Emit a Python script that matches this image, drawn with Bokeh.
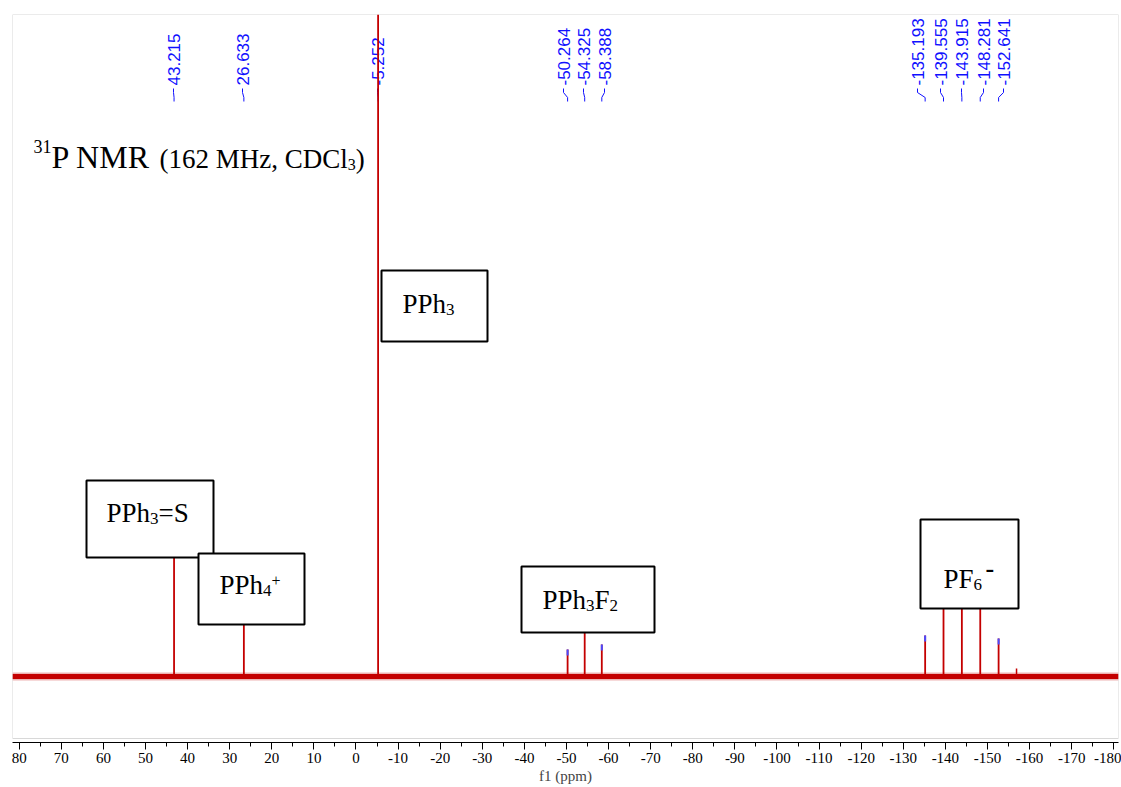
import numpy as np
from bokeh.plotting import figure
from bokeh.models import Range1d, FixedTicker, BoxAnnotation
from bokeh.embed import file_html
from bokeh.resources import INLINE
from bokeh.core.properties import value

# ---------------- data ----------------
peak_ppm = [43.215, 26.633, -5.252, -50.264, -54.325, -58.388,
            -135.193, -139.555, -143.915, -148.281, -152.641]
peak_height = [130, 62, 662, 27, 54, 32, 41, 78, 78, 78, 38]
peak_labels = ["43.215", "26.633", "-5.252", "-50.264", "-54.325", "-58.388",
               "-135.193", "-139.555", "-143.915", "-148.281", "-152.641"]
minor_ppm = [-156.9]
minor_height = [8]
tick_values = list(range(80, -181, -10))
minor_tick_values = list(range(80, -181, -5))
tick_labels = {t: str(t) for t in tick_values}

# ---------------- layout helpers ----------------
W, H = 1121, 787
X0, X1 = 81.59, -181.12          # ppm at frame left / right
PXL, PXR = 12, 1118              # canvas px of frame left / right
def px2ppm(px):
    return X0 - (px - PXL) * (X0 - X1) / (PXR - PXL)
def py2y(py):
    return 676 - py              # baseline (0) sits at canvas y 676

label_px = [173, 242, 377, 563, 583, 604, 917, 940, 961, 983, 1003]
label_ppm = [px2ppm(v) for v in label_px]

RED = "#c40000"
BLUE = "#1010ff"
SERIF = "Liberation Serif"

# Times / Liberation Serif advance widths (em)
TW = {" ": .25, "(": .333, ")": .333, "M": .889, "H": .722, "z": .444, ",": .25,
      "C": .667, "D": .722, "l": .278, "P": .556, "N": .722, "R": .667, "h": .5,
      "=": .564, "S": .556, "F": .556, "+": .564, "-": .333}
def tw(s, size):
    return sum(TW.get(c, .5) for c in s) * size

p = figure(width=W, height=H, output_backend="svg", toolbar_location=None,
           x_range=Range1d(X0, X1), y_range=Range1d(-66, 662),
           y_axis_type=None, tools="")
p.min_border_left = PXL
p.min_border_right = W - PXR
p.min_border_top = 14
p.min_border_bottom = H - 742
p.outline_line_color = None
p.xgrid.visible = False
p.ygrid.visible = False
p.background_fill_color = "white"
p.border_fill_color = "white"

# grey frame box
p.add_layout(BoxAnnotation(left=X0, right=X1, top=py2y(14), bottom=py2y(738),
                           fill_color=None, line_color="#d8d8d8", line_alpha=1,
                           line_width=1, level="underlay"))

# x axis
ax = p.xaxis[0]
ax.ticker = FixedTicker(ticks=tick_values, minor_ticks=minor_tick_values)
ax.major_label_overrides = tick_labels
ax.major_label_text_font = SERIF
ax.major_label_text_font_size = "15px"
ax.major_label_text_color = "black"
ax.major_label_standoff = 3
ax.major_tick_out = 7
ax.major_tick_in = 0
ax.minor_tick_out = 4
ax.minor_tick_in = 0
ax.axis_line_color = "black"
ax.major_tick_line_color = "black"
ax.minor_tick_line_color = "black"
ax.axis_label = "f1 (ppm)"
ax.axis_label_text_font = SERIF
ax.axis_label_text_font_size = "15px"
ax.axis_label_text_font_style = "normal"
ax.axis_label_standoff = 2

# peak labels (top, rotated)
p.text(x=label_ppm, y=[py2y(85)] * len(label_ppm), text=peak_labels,
       angle=np.pi / 2, text_align="left", text_baseline="middle",
       text_font=value("Liberation Sans"), text_font_size="17px",
       text_color=BLUE)
xs = [[lx, lx, pk, pk] for lx, pk in zip(label_ppm, peak_ppm)]
ys = [[py2y(88), py2y(92), py2y(97), py2y(101)] for _ in peak_ppm]
p.multi_line(xs=xs, ys=ys, line_color=BLUE, line_width=1)

# baseline (noise band)
p.line(x=[X0, X1], y=[0, 0], line_color=RED, line_width=8, line_alpha=0.3)
p.line(x=[X0, X1], y=[0, 0], line_color=RED, line_width=5)

# peaks
p.segment(x0=peak_ppm, y0=[0] * len(peak_ppm), x1=peak_ppm, y1=peak_height,
          line_color=RED, line_width=1.8)
p.segment(x0=minor_ppm, y0=[0] * len(minor_ppm), x1=minor_ppm, y1=minor_height,
          line_color=RED, line_width=1.5)
tips = [(x, h) for x, h in zip(peak_ppm, peak_height) if h < 600]
p.segment(x0=[t[0] for t in tips], y0=[t[1] - 6 for t in tips],
          x1=[t[0] for t in tips], y1=[t[1] for t in tips],
          line_color="#4a4aff", line_width=2)

# annotation boxes (glyphs, drawn after peaks) and their texts
boxes = [(86, 213, 480, 557), (198, 304, 553, 624), (381, 487, 270, 341),
         (521, 654, 566, 632), (920, 1018, 519, 608)]
for (l, r, t, b) in boxes:
    p.quad(left=[px2ppm(l)], right=[px2ppm(r)], top=[py2y(t)], bottom=[py2y(b)],
           fill_color="white", line_color="black", line_width=2)

T = {"x": [], "y": [], "text": [], "size": [], "style": []}
def txt(s, px, py, size, bold=False):
    py = py - 0.37 * size        # baseline correction for rendered text
    T["x"].append(px2ppm(px)); T["y"].append(py2y(py)); T["text"].append(s)
    T["size"].append(f"{size}px"); T["style"].append("bold" if bold else "normal")

def chain(x, base, pieces):
    for s, size, dy, *rest in pieces:
        txt(s, x, base + dy, size, bold=bool(rest))
        x += tw(s, size)

chain(106, 522, [("PPh", 27, 0), ("3", 17, 2), ("=S", 27, 0)])
chain(219, 594, [("PPh", 27, 0), ("4", 17, 2), ("+", 16, -8)])
chain(402, 313, [("PPh", 27, 0), ("3", 17, 2)])
chain(542, 609, [("PPh", 27, 0), ("3", 17, 2), ("F", 27, 0), ("2", 17, 2)])
chain(943, 588, [("PF", 27, 0), ("6", 17, 2)])
txt("-", 985, 578, 26, bold=True)

# title
chain(33, 168, [("31", 18, -15), ("P NMR ", 32, 0)])
chain(159, 168, [("(162 MHz, CDCl", 27, 0), ("3", 16, 2), (")", 27, 0)])

p.text(x="x", y="y", text="text", source=T, text_font=value(SERIF),
       text_font_size="size", text_font_style="style", text_align="left",
       text_baseline="alphabetic", text_color="black")

open("out.html", "w").write(file_html(p, INLINE))
